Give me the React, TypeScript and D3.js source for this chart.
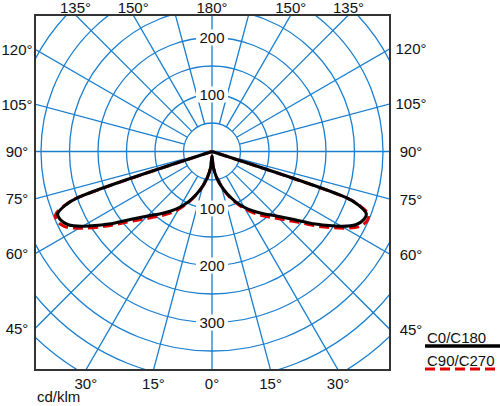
import React from 'react';
import * as d3 from 'd3';

// luminous intensity, cd/klm, read at gamma angles (0 = nadir)
const gammas = [0, 5, 10, 15, 20, 25, 30, 35, 40, 45, 50, 55, 60, 63, 66, 68, 70, 71, 72.5];
const c0c180 = [8, 28, 46, 63, 80, 97, 113, 128, 143, 160, 185, 222, 262, 283, 292, 292, 272, 250, 0];
const c90c270 = [8, 28, 46, 63, 81, 99, 117, 133, 149, 167, 192, 229, 269, 290, 298, 296, 274, 250, 0];

const ringValues = [50, 100, 150, 200, 250, 300, 350, 400, 450, 500];
const ringLabelsUp = [100, 200];
const ringLabelsDown = [100, 200, 300];
// signed gamma: negative = left half
const angleTicks = [-135, -150, 180, 150, 135, -120, -105, -90, -75, -60, -45, 120, 105, 90, 75, 60, 45, -30, -15, 0, 15, 30];
const seriesNames = ['C0/C180', 'C90/C270'];

const W = 500, H = 406;
const fx0 = 35, fx1 = 390, fy0 = 15, fy1 = 370;
const cx = 212, cy = 151.5;
const blue = '#1a7fd0';
const font = 'Arial, "Liberation Sans", sans-serif';
const fs = 15;

const r = d3.scaleLinear().domain([0, 100]).range([0, 57]);

const toRad = (g: number) => (g * Math.PI) / 180;

// screen point for signed gamma and intensity
const pt = (g: number, v: number): [number, number] => [
  cx + r(v) * Math.sin(toRad(g)),
  cy + r(v) * Math.cos(toRad(g)),
];

const buildPath = (vals: number[]) => {
  const left = gammas.map((g, i) => ({ g: -g, v: vals[i] })).reverse();
  const right = gammas.slice(1).map((g, i) => ({ g, v: vals[i + 1] }));
  const line = d3
    .line<{ g: number; v: number }>()
    .x((d) => pt(d.g, d.v)[0])
    .y((d) => pt(d.g, d.v)[1])
    .curve(d3.curveCatmullRom.alpha(0.5));
  return line([...left, ...right]) || '';
};

// where a ray from the centre meets the frame
const hitFrame = (g: number) => {
  const dx = Math.sin(toRad(g));
  const dy = Math.cos(toRad(g));
  const ts: { t: number; side: string }[] = [];
  if (dx > 1e-9) ts.push({ t: (fx1 - cx) / dx, side: 'right' });
  if (dx < -1e-9) ts.push({ t: (fx0 - cx) / dx, side: 'left' });
  if (dy > 1e-9) ts.push({ t: (fy1 - cy) / dy, side: 'bottom' });
  if (dy < -1e-9) ts.push({ t: (fy0 - cy) / dy, side: 'top' });
  const best = ts.reduce((a, b) => (b.t < a.t ? b : a));
  return { x: cx + best.t * dx, y: cy + best.t * dy, side: best.side };
};

const spokes = d3.range(0, 360, 15).filter((a) => a % 90 !== 0);

const App = () => {
  return (
    <svg width={W} height={H} style={{ position: 'absolute', left: 0, top: 0, background: '#fff' }} fontFamily={font}>
      <defs>
        <clipPath id="frameClip">
          <rect x={fx0} y={fy0} width={fx1 - fx0} height={fy1 - fy0} />
        </clipPath>
      </defs>
      <g clipPath="url(#frameClip)" fill="none" stroke={blue} strokeWidth={1.3}>
        {ringValues.map((v) => (
          <circle key={v} cx={cx} cy={cy} r={r(v)} />
        ))}
        {spokes.map((a) => {
          const [x1, y1] = pt(a, 50);
          const [x2, y2] = pt(a, 800);
          return <line key={a} x1={x1} y1={y1} x2={x2} y2={y2} />;
        })}
        <line x1={fx0} y1={cy} x2={fx1} y2={cy} />
        <line x1={cx} y1={fy0} x2={cx} y2={fy1} />
      </g>
      {ringLabelsUp.map((v) => (
        <g key={'u' + v}>
          <rect x={cx - 16} y={cy - r(v) - 8} width={32} height={16} fill="#fff" />
          <text x={cx} y={cy - r(v) + 5.5} textAnchor="middle" fontSize={fs} fill="#111">{v}</text>
        </g>
      ))}
      {ringLabelsDown.map((v) => (
        <g key={'d' + v}>
          <rect x={cx - 16} y={cy + r(v) - 8} width={32} height={16} fill="#fff" />
          <text x={cx} y={cy + r(v) + 5.5} textAnchor="middle" fontSize={fs} fill="#111">{v}</text>
        </g>
      ))}
      <path d={buildPath(c90c270)} fill="none" stroke="#e00000" strokeWidth={3} strokeDasharray="10,5" />
      <path d={buildPath(c0c180)} fill="none" stroke="#000" strokeWidth={3} strokeLinejoin="round" />
      <rect x={fx0} y={fy0} width={fx1 - fx0} height={fy1 - fy0} fill="none" stroke="#333" strokeWidth={2} />
      {angleTicks.map((g) => {
        const h = hitFrame(g);
        const label = `${Math.abs(g)}°`;
        let x = h.x, y = h.y;
        if (h.side === 'top') y = 13;
        else if (h.side === 'bottom') y = 389;
        else if (h.side === 'left') { x = 17; y = h.y + 5.5; }
        else { x = 411; y = h.y + 5.5; }
        return (
          <text key={g} x={x} y={y} textAnchor="middle" fontSize={fs} fill="#111">{label}</text>
        );
      })}
      <text x={37} y={402} fontSize={fs} fill="#111">cd/klm</text>
      <text x={427} y={343} fontSize={fs} fill="#111">{seriesNames[0]}</text>
      <line x1={425} y1={346} x2={500} y2={346} stroke="#000" strokeWidth={3.5} />
      <text x={427} y={366} fontSize={fs} fill="#111">{seriesNames[1]}</text>
      <line x1={425} y1={369} x2={500} y2={369} stroke="#e00000" strokeWidth={3} strokeDasharray="10,5" />
    </svg>
  );
};

export default App;
